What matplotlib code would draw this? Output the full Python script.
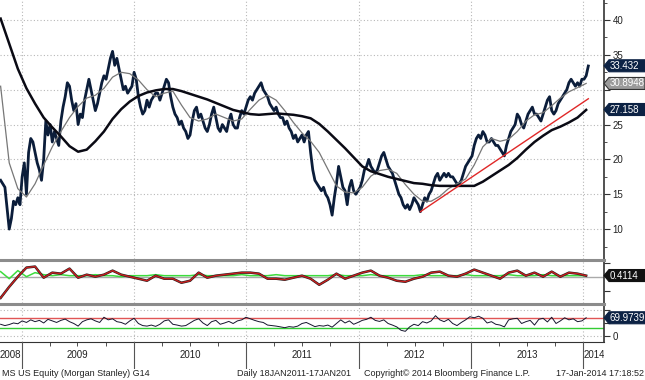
import matplotlib
matplotlib.use("Agg")
import matplotlib.pyplot as plt
import matplotlib.dates as mdates
from matplotlib.patches import Polygon
from matplotlib.lines import Line2D
import pandas as pd

plt.rcParams['font.family'] = ['Liberation Sans', 'DejaVu Sans']

# weekly closes, Morgan Stanley
start = '2008-10-24'
price = [17.0, 16.5, 16.0, 13.0, 10.0, 11.5, 14.0, 13.5, 14.5, 13.5,
         17.5, 19.5, 15.0, 21.0, 23.0, 22.5, 21.0, 19.5, 18.5, 17.0,
         20.0, 25.5, 23.5, 25.0, 22.5, 24.0, 23.0, 22.0, 25.5, 27.5,
         29.0, 31.0, 30.5, 28.5, 27.0, 28.0, 25.0, 26.5, 26.0, 28.5,
         30.0, 31.5, 30.0, 28.5, 27.0, 28.0, 29.5, 31.0, 32.0, 31.5,
         33.0, 34.5, 35.5, 33.5, 34.5, 33.0, 31.5, 30.0, 30.5, 29.5,
         30.0, 30.5, 32.5, 31.5, 29.0, 27.5, 26.5, 27.0, 28.5, 27.5,
         28.5, 29.0, 29.5, 29.5, 28.5, 29.5, 30.5, 31.5, 31.0, 29.0,
         27.5, 26.5, 26.0, 25.0, 25.5, 24.5, 24.0, 23.0, 23.5, 25.5,
         27.0, 27.5, 26.0, 26.5, 25.5, 24.5, 24.0, 25.0, 26.5, 27.5,
         26.0, 24.5, 24.0, 25.0, 24.5, 24.0, 25.5, 26.5, 25.0, 24.5,
         24.5, 26.0, 27.0, 26.5, 27.5, 28.5, 29.0, 28.5, 29.5, 30.0,
         30.5, 31.0, 30.0, 29.5, 29.0, 28.0, 27.5, 27.0, 27.5, 26.5,
         26.0, 26.0, 25.0, 25.5, 24.5, 24.0, 23.0, 23.5, 22.5, 23.0,
         23.5, 22.5, 23.5, 24.0, 21.0, 18.5, 17.0, 16.5, 16.0, 15.5,
         16.0, 15.0, 14.5, 13.5, 12.0, 14.5, 16.5, 19.0, 17.5, 16.0,
         15.5, 13.5, 16.0, 17.0, 15.5, 15.0, 15.5, 16.0, 17.0, 18.5,
         19.0, 20.0, 19.0, 18.5, 18.0, 18.5, 19.5, 20.5, 21.0, 20.0,
         19.0, 18.5, 18.0, 17.0, 16.0, 15.0, 14.5, 13.5, 13.0, 13.5,
         12.8, 13.5, 14.5, 14.0, 13.5, 12.5, 13.5, 14.5, 14.0, 15.0,
         15.5, 16.5, 17.5, 18.0, 17.0, 17.5, 18.0, 17.5, 18.0, 17.5,
         17.5, 17.0, 16.5, 16.5, 17.0, 18.0, 19.0, 19.5, 20.0, 20.5,
         22.0, 23.0, 23.5, 23.0, 24.0, 23.5, 22.5, 22.5, 23.0, 22.5,
         22.0, 22.0, 21.5, 21.0, 20.5, 22.0, 23.0, 24.0, 24.5, 25.0,
         26.5, 26.0, 25.0, 24.5, 25.5, 26.5, 27.0, 27.5, 26.5, 26.5,
         26.0, 25.5, 26.5, 27.5, 28.5, 29.0, 27.0, 26.5, 27.0, 28.0,
         28.5, 29.0, 29.5, 30.0, 31.0, 31.5, 31.0, 30.5, 31.0, 30.5,
         31.5, 31.5, 32.0, 33.4]

# moving averages, every 4 weeks
ma200 = [40.2, 36.6, 33.0, 30.2, 28.0, 26.0, 24.6, 23.3, 21.9, 21.1,
         21.4, 22.6, 24.0, 25.8, 27.2, 28.3, 29.1, 29.6, 29.9, 30.1,
         30.1, 29.8, 29.4, 29.0, 28.6, 28.1, 27.6, 27.1, 26.8, 26.5,
         26.4, 26.5, 26.6, 26.5, 26.4, 26.2, 25.9, 25.1, 24.0, 22.8,
         21.6, 20.3, 19.0, 18.3, 17.9, 17.5, 17.2, 16.9, 16.6, 16.5,
         16.3, 16.2, 16.2, 16.2, 16.2, 16.2, 16.8, 17.6, 18.4, 19.2,
         20.2, 21.4, 22.5, 23.4, 24.2, 24.7, 25.3, 26.0, 27.1]
ma50 = [30.5, 19.5, 15.8, 14.6, 16.5, 19.2, 21.8, 24.0, 26.0, 27.6,
        28.8, 29.2, 30.2, 31.8, 32.5, 32.3, 31.4, 30.0, 29.0, 29.5,
        29.8, 27.8, 26.0, 25.5, 25.8, 26.5, 26.0, 25.5, 25.8, 27.2,
        28.5, 29.2, 28.5, 27.0, 25.3, 23.8, 22.6, 21.0, 18.6, 16.2,
        15.3, 15.2, 16.0, 17.6, 18.4, 18.6, 18.0, 16.4, 15.0, 14.0,
        14.0, 14.7, 15.8, 16.5, 17.2, 19.2, 21.8, 23.0, 22.6, 22.9,
        24.0, 25.5, 26.4, 26.7, 27.7, 28.8, 29.7, 30.3, 30.9]

# middle panel, every 4 weeks
ind_red = [0.19, 0.30, 0.40, 0.49, 0.50, 0.39, 0.44, 0.43, 0.48, 0.39,
           0.42, 0.40, 0.42, 0.46, 0.42, 0.40, 0.38, 0.36, 0.41, 0.38,
           0.38, 0.34, 0.36, 0.44, 0.39, 0.41, 0.42, 0.43, 0.44, 0.44,
           0.43, 0.38, 0.38, 0.37, 0.39, 0.41, 0.38, 0.32, 0.37, 0.43,
           0.38, 0.41, 0.44, 0.46, 0.41, 0.39, 0.36, 0.35, 0.38, 0.40,
           0.44, 0.45, 0.41, 0.40, 0.43, 0.47, 0.44, 0.41, 0.38, 0.44,
           0.46, 0.41, 0.44, 0.40, 0.45, 0.40, 0.44, 0.43, 0.41]
ind_green = [0.45, 0.38, 0.46, 0.40, 0.44, 0.42, 0.41, 0.42, 0.41, 0.41,
             0.41, 0.42, 0.41, 0.41, 0.40, 0.41, 0.41, 0.41, 0.42, 0.41,
             0.41, 0.41, 0.41, 0.42, 0.41, 0.41, 0.41, 0.41, 0.42, 0.41,
             0.41, 0.41, 0.42, 0.41, 0.41, 0.41, 0.41, 0.41, 0.41, 0.42,
             0.41, 0.41, 0.41, 0.42, 0.41, 0.41, 0.41, 0.41, 0.41, 0.42,
             0.41, 0.41, 0.41, 0.41, 0.42, 0.41, 0.41, 0.41, 0.41, 0.42,
             0.41, 0.41, 0.41, 0.42, 0.41, 0.41, 0.41, 0.41, 0.41]

# RSI, every 2 weeks
rsi = [45, 40, 44, 50, 47, 58, 52, 62, 55, 60,
       50, 64, 58, 52, 60, 65, 55, 48, 38, 55,
       62, 66, 58, 52, 72, 62, 66, 55, 52, 45,
       58, 68, 48, 40, 38, 42, 37, 45, 58, 62,
       45, 42, 38, 40, 50, 60, 66, 50, 40, 55,
       60, 45, 50, 56, 48, 58, 62, 72, 66, 60,
       55, 52, 42, 40, 38, 35, 32, 36, 34, 38,
       48, 52, 44, 36, 40, 38, 42, 34, 48, 62,
       50, 58, 45, 52, 60, 64, 72, 60, 56, 62,
       48, 42, 35, 22, 18, 35, 45, 40, 55, 50,
       58, 78, 62, 55, 64, 48, 40, 52, 62, 74,
       70, 76, 68, 50, 55, 45, 42, 35, 62, 66,
       68, 48, 55, 60, 42, 64, 68, 54, 72, 48,
       58, 70, 62, 66, 55, 58, 70]

trend_dates = ['2012-07-20', '2014-01-17']
trend_vals = [12.5, 28.7]

years = [2008, 2009, 2010, 2011, 2012, 2013, 2014]
year_label_dates = ['2008-11-26', '2009-07-02', '2010-07-02', '2011-07-02',
                    '2012-07-01', '2013-07-02', '2014-02-04']

dates = pd.date_range(start, periods=len(price), freq='7D')
d4 = dates[::4]
d2 = dates[::2]

W, H = 645, 380
fig = plt.figure(figsize=(W / 100, H / 100), dpi=100)
fig.patch.set_facecolor('white')

def box(top, bottom):
    return [0, (H - bottom) / H, 604 / W, (bottom - top) / H]

ax = fig.add_axes(box(0, 259))
ax1 = fig.add_axes(box(261, 303), sharex=ax)
ax2 = fig.add_axes(box(305, 342), sharex=ax)
axd = fig.add_axes(box(342, 369), sharex=ax)

xmin, xmax = pd.Timestamp('2008-10-22'), pd.Timestamp('2014-03-09')
for a in (ax, ax1, ax2):
    for s in ('top', 'left', 'bottom'):
        a.spines[s].set_visible(False)
    a.spines['right'].set_color('#333333')
    a.spines['right'].set_linewidth(1.2)
    a.yaxis.tick_right()
    a.xaxis.set_major_locator(mdates.YearLocator())
    a.grid(axis='x', ls=(0, (1, 2)), color='#b8b8b8', lw=0.8)
    a.tick_params(axis='x', which='both', length=0, labelbottom=False)
    a.tick_params(axis='y', which='both', direction='out', color='#333333',
                  labelsize=7, labelcolor='#222222', pad=2)
    a.tick_params(axis='y', which='major', length=4)
    a.tick_params(axis='y', which='minor', length=2.5)
    a.set_axisbelow(True)
ax.set_xlim(xmin, xmax)

# main price panel
ax.set_ylim(5.71, 42.87)
ax.set_yticks(range(10, 45, 5))
ax.set_yticklabels(['10', '15', '20', '25', '', '35', '40'])
ax.set_yticks([7.5, 12.5, 17.5, 22.5, 27.5, 32.5, 37.5, 42.5], minor=True)
ax.grid(axis='y', ls=(0, (1, 2)), color='#b8b8b8', lw=0.8)
ax.plot(dates, price, color='#0b1d3a', lw=2.0)
ax.plot(d4, ma50, color='#777777', lw=0.9)
ax.plot(d4, ma200, color='#0a0a14', lw=1.8)
ax.plot(pd.to_datetime(trend_dates), trend_vals, color='#e02828', lw=1.0)

# middle indicator panel
ax1.set_ylim(0.14, 0.555)
ax1.set_yticks([0.26, 0.54])
ax1.tick_params(axis='y', labelright=False)
ax1.axhline(0.40, color='#aaaaaa', lw=1.0)
ax1.plot(d4, ind_green, color='#3ddc3d', lw=1.1)
ax1.plot(d4, ind_red, color='#222222', lw=1.8)
ax1.plot(d4, ind_red, color='#c81e1e', lw=1.0)

# RSI panel
ax2.set_ylim(-23, 119)
ax2.set_yticks([0, 50, 100])
ax2.set_yticklabels(['0', '', ''])
ax2.spines['bottom'].set_visible(True)
ax2.spines['bottom'].set_color('#333333')
ax2.axhline(100, ls=(0, (1, 2)), color='#b8b8b8', lw=0.8)
ax2.axhline(0, ls=(0, (1, 2)), color='#b8b8b8', lw=0.8)
ax2.axhline(70, color='#e05555', lw=1.0)
ax2.axhline(30, color='#33cc33', lw=1.0)
ax2.plot(d2, rsi, color='#15152e', lw=0.7)
ax2.xaxis.set_minor_locator(mdates.MonthLocator(bymonth=[1, 4, 7, 10]))
ax2.tick_params(axis='x', which='minor', length=3, direction='out', color='#333333')

# date row
axd.axis('off')
for y in years[1:]:
    axd.axvline(pd.Timestamp(f'{y}-01-01'), color='#555555', lw=0.8)
for y, d in zip(years, year_label_dates):
    axd.text(pd.Timestamp(d), 0.5, str(y), ha='center', va='center',
             fontsize=7, color='#222222', clip_on=True)

# separators between panels
for yy in (260, 304):
    fig.add_artist(Line2D([0, 604 / W], [(H - yy) / H] * 2, color='#8c8c8c', lw=2.2))

# value tags on the right
def tag(a, val, txt, fc, tc='white', ec=None):
    yp = a.transData.transform((0, val))[1]
    x0, x1, h = 604, 645, 6
    pts = [(x0, yp), (x0 + 5, yp + h), (x1, yp + h), (x1, yp - h), (x0 + 5, yp - h)]
    fig.add_artist(Polygon([(px / W, py / H) for px, py in pts], closed=True,
                           fc=fc, ec=ec or fc, lw=0.8, zorder=10))
    fig.text((x0 + 6) / W, yp / H, txt, color=tc, fontsize=7, va='center',
             ha='left', zorder=11)

tag(ax, 33.432, '33.432', '#0c2244')
tag(ax, 30.8948, '30.8948', '#9a9a9a', ec='#333333')
tag(ax, 27.158, '27.158', '#0c2244')
tag(ax1, 0.4114, '0.4114', '#111111')
tag(ax2, 69.9739, '69.9739', '#0c2244')

# footer
fy = (H - 373) / H
fig.text(2 / W, fy, 'MS US Equity (Morgan Stanley) G14', fontsize=6.5, va='center', color='#222222')
fig.text(237 / W, fy, 'Daily 18JAN2011-17JAN201', fontsize=6.5, va='center', color='#222222')
fig.text(364 / W, fy, 'Copyright\u00a9 2014 Bloomberg Finance L.P.', fontsize=6.5, va='center', color='#222222')
fig.text(644 / W, fy, '17-Jan-2014 17:18:52', fontsize=6.5, va='center', ha='right', color='#222222')

fig.savefig('out.png', dpi=100)
